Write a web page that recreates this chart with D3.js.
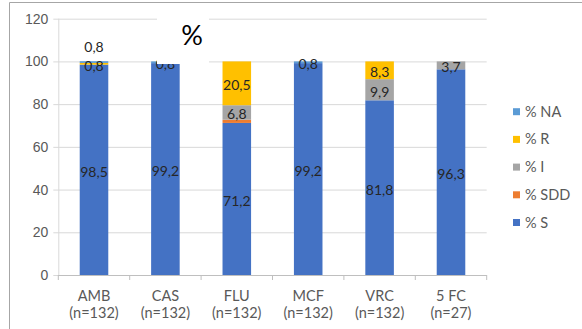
<!DOCTYPE html>
<html>
<head>
<meta charset="utf-8">
<script src="https://cdn.jsdelivr.net/npm/d3@7"></script>
<style>
  html, body { margin: 0; padding: 0; background: #fff; }
  svg { display: block; font-family: Lato, "Open Sans", sans-serif; }
</style>
</head>
<body>
<svg id="chart" width="582" height="329"></svg>
<script>
// Antifungal susceptibility, percentage of isolates per category
const categories = ["AMB", "CAS", "FLU", "MCF", "VRC", "5 FC"];
const sampleSizes = ["(n=132)", "(n=132)", "(n=132)", "(n=132)", "(n=132)", "(n=27)"];
const seriesNames = ["% S", "% SDD", "% I", "% R", "% NA"];
const pctS   = [98.5, 99.2, 71.2, 99.2, 81.8, 96.3];
const pctSDD = [0,    0,    1.5,  0,    0,    0];
const pctI   = [0,    0,    6.8,  0,    9.9,  3.7];
const pctR   = [0.8,  0,    20.5, 0,    8.3,  0];
const pctNA  = [0.8,  0.8,  0,    0.8,  0,    0];
const seriesColors = ["#4472C4", "#ED7D31", "#A5A5A5", "#FFC000", "#5B9BD5"];
const yTicks = [0, 20, 40, 60, 80, 100, 120];
const legendOrder = ["% NA", "% R", "% I", "% SDD", "% S"];
const titleText = "%";

const seriesValues = [pctS, pctSDD, pctI, pctR, pctNA];
const rows = categories.map((c, i) => {
  const r = { cat: c, n: sampleSizes[i] };
  seriesNames.forEach((s, k) => r[s] = seriesValues[k][i]);
  return r;
});

const svg = d3.select("#chart");
const plot = { left: 58.3, right: 486.7, top: 18.7, bottom: 275 };

const x = d3.scaleBand().domain(categories).range([plot.left, plot.right]).paddingInner(0.6).paddingOuter(0.3);
const xEdge = d3.scaleBand().domain(categories).range([plot.left, plot.right]);
const y = d3.scaleLinear().domain([0, 120]).range([plot.bottom, plot.top]);
const color = d3.scaleOrdinal().domain(seriesNames).range(seriesColors);

// outer frame (top and left edges)
svg.append("path")
  .attr("d", "M9.5,329 V2.5 H582")
  .attr("fill", "none").attr("stroke", "#a6a6a6").attr("stroke-width", 1);

// horizontal gridlines and value axis
const yAxis = svg.append("g")
  .attr("transform", `translate(${plot.left},0)`)
  .call(d3.axisLeft(y).tickValues(yTicks).tickSize(-(plot.right - plot.left)).tickSizeOuter(0).tickPadding(10));
yAxis.select(".domain").remove();
yAxis.selectAll(".tick line").attr("stroke", "#d9d9d9").attr("x1", -5);
yAxis.selectAll(".tick text").attr("fill", "#595959").style("font-size", "14px");
svg.append("line")
  .attr("x1", plot.left + 0.5).attr("x2", plot.left + 0.5)
  .attr("y1", y(120)).attr("y2", y(0))
  .attr("stroke", "#d9d9d9");

// stacked bars
const stacked = d3.stack().keys(seriesNames)(rows);
const layers = svg.append("g").selectAll("g").data(stacked).join("g")
  .attr("fill", d => color(d.key));
layers.selectAll("rect").data(d => d).join("rect")
  .attr("x", d => x(d.data.cat))
  .attr("width", x.bandwidth())
  .attr("y", d => y(d[1]))
  .attr("height", d => y(d[0]) - y(d[1]));

// category axis
const xAxis = svg.append("g")
  .attr("transform", `translate(0,${plot.bottom})`);
xAxis.append("line")
  .attr("x1", plot.left).attr("x2", plot.right)
  .attr("y1", 0.5).attr("y2", 0.5).attr("stroke", "#bfbfbf");
const edges = categories.map(c => xEdge(c)).concat([plot.right]);
xAxis.selectAll("line.tk").data(edges).join("line").attr("class", "tk")
  .attr("x1", d => d).attr("x2", d => d)
  .attr("y1", 0).attr("y2", 5).attr("stroke", "#bfbfbf");
const xl = xAxis.selectAll("text").data(rows).join("text")
  .attr("x", d => x(d.cat) + x.bandwidth() / 2)
  .attr("text-anchor", "middle")
  .attr("fill", "#595959").style("font-size", "14.5px");
xl.append("tspan").attr("x", d => x(d.cat) + x.bandwidth() / 2).attr("y", 25.5).text(d => d.cat);
xl.append("tspan").attr("x", d => x(d.cat) + x.bandwidth() / 2).attr("y", 43).text(d => d.n);

// value labels, centred in their segments; a label that collides with
// the one below it is lifted above the bar
const fmt = v => d3.format(".1f")(v).replace(".", ",");
const labelData = [];
rows.forEach(r => {
  let base = 0, lastY = null;
  seriesNames.forEach(s => {
    const v = r[s];
    if (v > 0 && s !== "% SDD") {
      let cy = y(base + v / 2) + 2;
      if (lastY !== null && lastY - cy < 10) cy = y(base + v) - 14;
      labelData.push({ cat: r.cat, cy, text: fmt(v) });
      lastY = cy;
    }
    base += v;
  });
});
svg.append("g").selectAll("text").data(labelData).join("text")
  .attr("x", d => x(d.cat) + x.bandwidth() / 2)
  .attr("y", d => d.cy)
  .attr("dy", "0.35em")
  .attr("text-anchor", "middle")
  .attr("fill", "#262626").style("font-size", "14px")
  .text(d => d.text);

// chart title on its white background
svg.append("rect")
  .attr("x", 157).attr("y", 4).attr("width", 52).attr("height", 60)
  .attr("fill", "#fff");
svg.append("text")
  .attr("x", 192).attr("y", 45)
  .attr("text-anchor", "middle")
  .attr("fill", "#000").style("font-size", "27px")
  .text(titleText);

// legend
const legend = svg.append("g").selectAll("g").data(legendOrder).join("g")
  .attr("transform", (d, i) => `translate(513,${111.7 + i * 27.7})`);
legend.append("rect")
  .attr("x", 0).attr("y", -3.5).attr("width", 7).attr("height", 7)
  .attr("fill", d => color(d));
legend.append("text")
  .attr("x", 12).attr("y", 0).attr("dy", "0.35em")
  .attr("fill", "#595959").style("font-size", "14.5px")
  .text(d => d);
</script>
</body>
</html>
